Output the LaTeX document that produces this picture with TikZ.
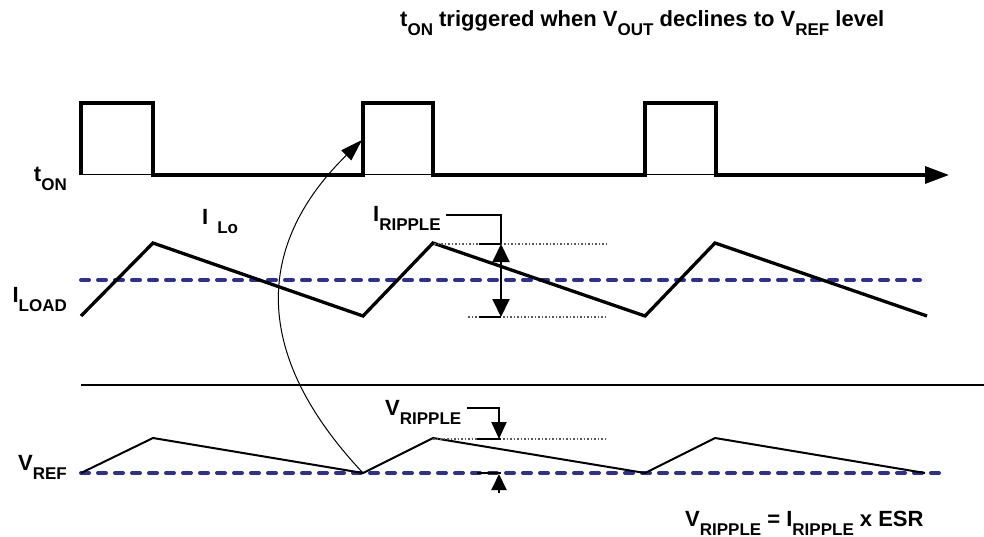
\documentclass[tikz,border=0pt]{standalone}
\usepackage{fontspec}
\setmainfont{Liberation Sans}
\usetikzlibrary{arrows.meta}
\definecolor{refblue}{RGB}{46,49,146}
\newcommand\lsub[1]{\raisebox{-9pt}{\fontsize{17}{17}\selectfont #1}}
\begin{document}
\begin{tikzpicture}[x=1pt,y=-1pt,
  wave/.style={line width=3.3pt},
  thinwave/.style={line width=2pt},
  refline/.style={refblue,line width=4pt,line cap=round,dash pattern=on 8pt off 9pt},
  guide/.style={black!65,line width=1.2pt,dash pattern=on 1.5pt off 2pt},
  lead/.style={line width=2pt},
  lbl/.style={font=\fontsize{22}{26}\selectfont\bfseries, inner sep=0pt}
]
\useasboundingbox (0,0) rectangle (984,537);

% title
\node[lbl,anchor=base west] (title) at (400,27) {t\lsub{ON} triggered when V\lsub{OUT} declines to V\lsub{REF} level};

% left labels
\node[lbl,anchor=base east] (ton) at (67,182) {t\lsub{ON}};
\node[lbl,anchor=base east] (iload) at (67,302) {I\lsub{LOAD}};
\node[lbl,anchor=base east] (vref) at (67,470) {V\lsub{REF}};
\node[lbl,anchor=base west] (ilo) at (202,225) {I\hspace{9pt}\lsub{Lo}};
\node[lbl,anchor=base west] (irip) at (373,222) {I\lsub{RIPPLE}};
\node[lbl,anchor=base west] (vrip) at (385,415) {V\lsub{RIPPLE}};
\node[lbl,anchor=base west] (formula) at (685,526) {V\lsub{RIPPLE} = I\lsub{RIPPLE} x ESR};

% t_ON pulse train
\draw[line width=1pt] (81,175) -- (153,175) (363,175) -- (433,175) (645,175) -- (716,175);
\draw[wave,-{Triangle[width=17pt,length=24pt]}] (81,175) -- (81,103) -- (153,103) -- (153,175) -- (363,175) -- (363,103) -- (433,103) -- (433,175) -- (645,175) -- (645,103) -- (716,103) -- (716,175) -- (949,175);

% I_LOAD level and inductor current
\draw[refline] (81,280) -- (920,280);
\draw[wave] (81,316) -- (153,243) -- (363,316) -- (433,243) -- (645,316) -- (715,243) -- (927,316);

% I_RIPPLE annotation
\draw[guide] (434,244) -- (607,244);
\draw[guide] (468,317) -- (607,317);
\draw[lead] (446,215) -- (501,215) -- (501,244);
\draw[lead] (479,244) -- (501,244);
\draw[lead] (479,317) -- (501,317);
\draw[lead,{Triangle[width=17pt,length=18pt]}-{Triangle[width=17pt,length=18pt]}] (501,244) -- (501,317);

% separator
\draw[line width=1.2pt] (81,385) -- (984,385);

% V_REF level and output voltage
\draw[refline] (81,473) -- (946,473);
\draw[thinwave] (81,473) -- (153,438) -- (363,473) -- (433,438) -- (645,473) -- (715,438) -- (925,473);

% V_RIPPLE annotation
\draw[guide] (433,439) -- (607,439);
\draw[lead] (477,439) -- (501,439);
\draw[lead] (477,473) -- (501,473);
\draw[lead,-{Triangle[width=15pt,length=17pt]}] (467,408) -- (499,408) -- (499,439);
\draw[lead,-{Triangle[width=15pt,length=16pt]}] (499,493) -- (499,474);

% trigger arrow
\coordinate (vtrough) at (363,473);
\coordinate (pulseedge) at (362,140);
\draw[line width=1pt,-{Triangle[width=14pt,length=22pt]}] (vtrough) .. controls (238,340) and (268,232) .. (pulseedge);
\end{tikzpicture}
\end{document}
